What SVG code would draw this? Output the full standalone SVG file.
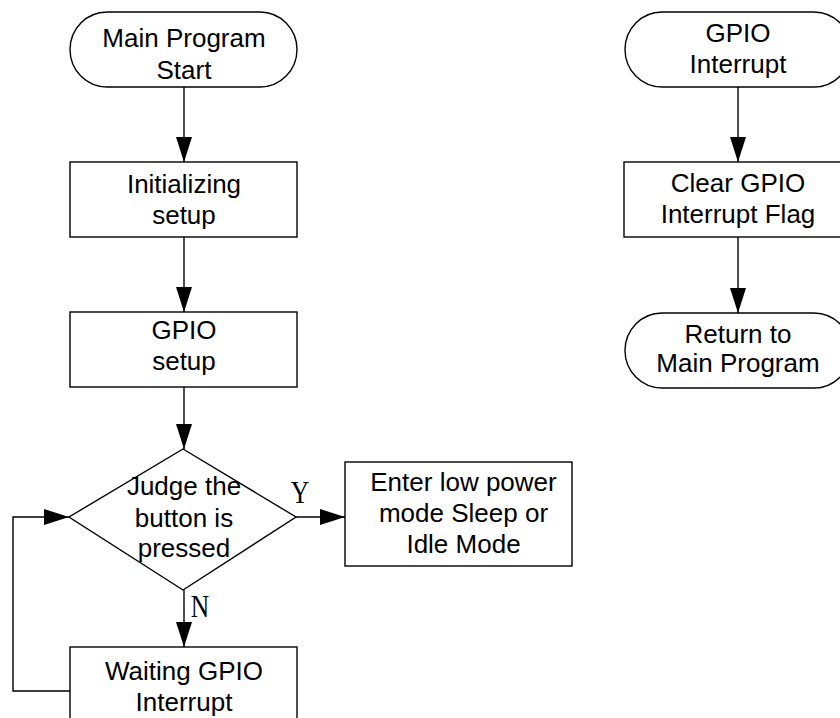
<svg xmlns="http://www.w3.org/2000/svg" width="840" height="718" viewBox="0 0 840 718">
  <style>
    .shape { fill: #ffffff; stroke: #000000; stroke-width: 1.4; }
    .label { font-family: "Liberation Sans", Arial, sans-serif; font-size: 26px; fill: #000000; text-anchor: middle; }
    .branch { font-family: "Liberation Serif", "Times New Roman", serif; font-size: 32px; fill: #000000; text-anchor: middle; }
    .flow { fill: none; stroke: #000000; stroke-width: 1.4; marker-end: url(#head); }
  </style>
  <defs>
    <marker id="head" viewBox="0 0 25 16" refX="25" refY="8" markerWidth="25" markerHeight="16" markerUnits="userSpaceOnUse" orient="auto">
      <path d="M0,0 L25,8 L0,16 Z" fill="#000000"/>
    </marker>
  </defs>

  <rect width="840" height="718" fill="#ffffff"/>

  <!-- connectors -->
  <g id="connectors">
    <line class="flow" x1="184" y1="87" x2="184" y2="162"/>
    <line class="flow" x1="184" y1="237" x2="184" y2="312"/>
    <line class="flow" x1="184" y1="387" x2="184" y2="449"/>
    <line class="flow" x1="296" y1="517" x2="345" y2="517"/>
    <line class="flow" x1="184" y1="590" x2="184" y2="647"/>
    <polyline class="flow" points="70,691 13,691 13,517 69,517"/>
    <line class="flow" x1="738" y1="87" x2="738" y2="162"/>
    <line class="flow" x1="738" y1="237" x2="738" y2="313"/>
    <text class="branch" transform="translate(300,503) scale(0.8,1)">Y</text>
    <text class="branch" transform="translate(200,617) scale(0.8,1)">N</text>
  </g>

  <!-- main program -->
  <g id="main-start">
    <rect class="shape" x="70" y="12" width="227" height="75" rx="37" ry="37.5"/>
    <text class="label" x="184" y="47">Main Program</text>
    <text class="label" x="184" y="79">Start</text>
  </g>

  <g id="init-setup">
    <rect class="shape" x="70" y="162" width="227" height="75"/>
    <text class="label" x="184" y="193">Initializing</text>
    <text class="label" x="184" y="224">setup</text>
  </g>

  <g id="gpio-setup">
    <rect class="shape" x="70" y="312" width="227" height="75"/>
    <text class="label" x="184" y="339">GPIO</text>
    <text class="label" x="184" y="370">setup</text>
  </g>

  <g id="button-check">
    <polygon class="shape" points="183,449 296,517 183,590 69,517"/>
    <text class="label" x="184" y="495">Judge the</text>
    <text class="label" x="184" y="527">button is</text>
    <text class="label" x="184" y="557">pressed</text>
  </g>

  <g id="low-power">
    <rect class="shape" x="345" y="462" width="227" height="104"/>
    <text class="label" x="463.5" y="491">Enter low power</text>
    <text class="label" x="463.5" y="522">mode Sleep or</text>
    <text class="label" x="463.5" y="553">Idle Mode</text>
  </g>

  <g id="wait-interrupt">
    <rect class="shape" x="70" y="647" width="227" height="80"/>
    <text class="label" x="184" y="680">Waiting GPIO</text>
    <text class="label" x="184" y="711">Interrupt</text>
  </g>

  <!-- interrupt routine -->
  <g id="irq-start">
    <rect class="shape" x="625" y="12" width="226" height="75" rx="37" ry="37.5"/>
    <text class="label" x="738" y="42">GPIO</text>
    <text class="label" x="738" y="73">Interrupt</text>
  </g>

  <g id="clear-flag">
    <rect class="shape" x="624" y="162" width="228" height="75"/>
    <text class="label" x="738" y="192">Clear GPIO</text>
    <text class="label" x="738" y="223">Interrupt Flag</text>
  </g>

  <g id="irq-return">
    <rect class="shape" x="625" y="313" width="226" height="75" rx="37" ry="37.5"/>
    <text class="label" x="738" y="343">Return to</text>
    <text class="label" x="738" y="372">Main Program</text>
  </g>
</svg>
